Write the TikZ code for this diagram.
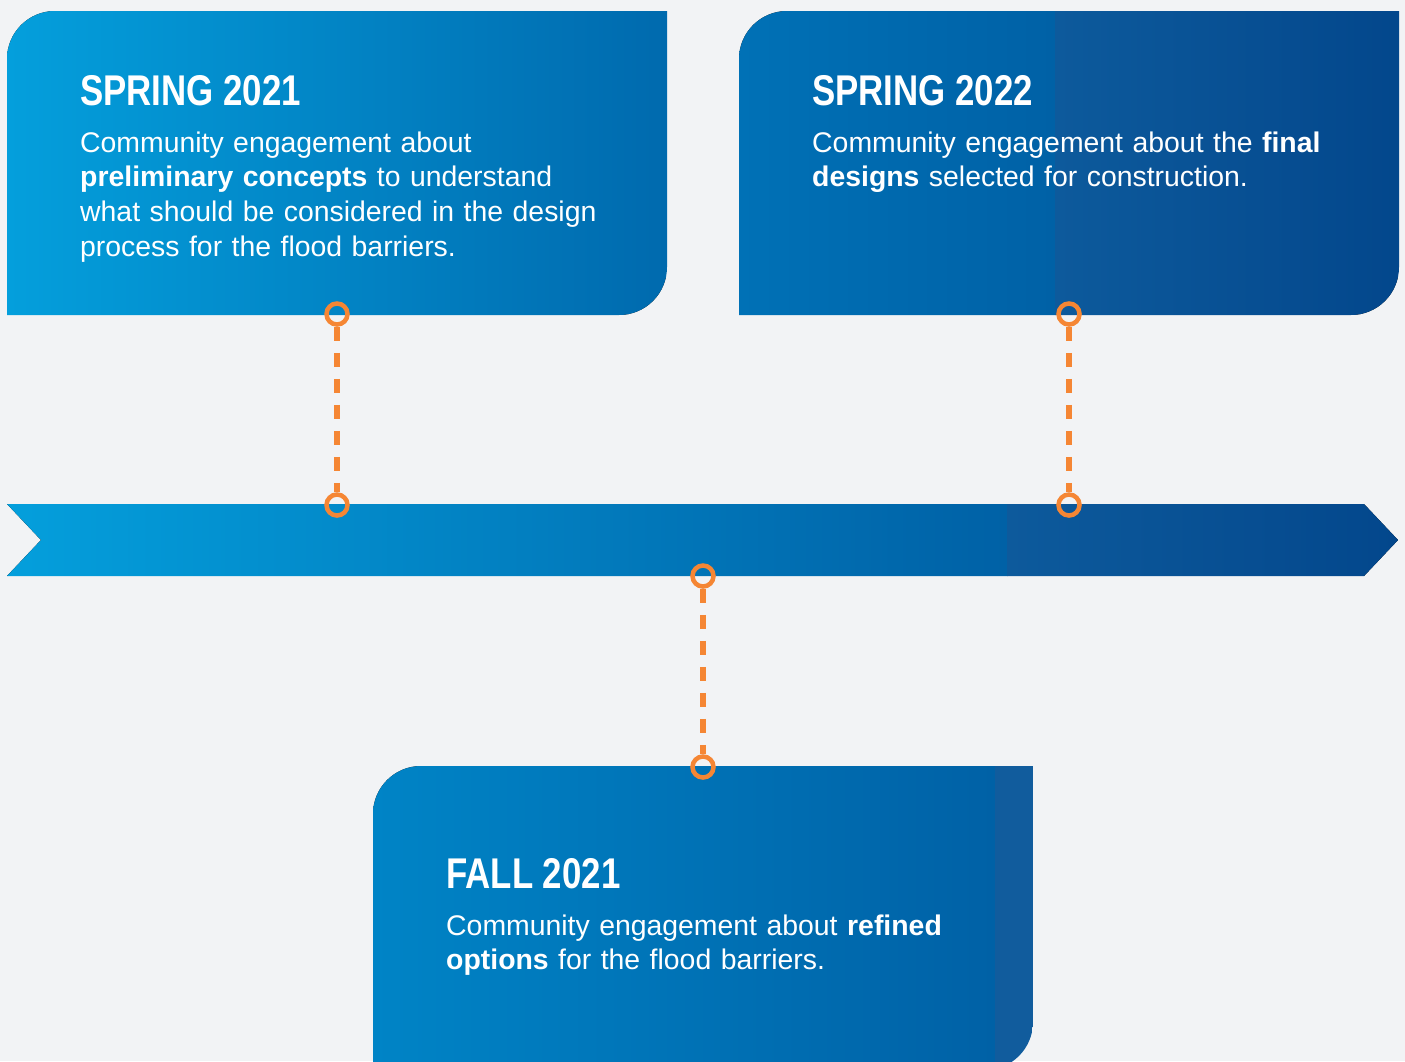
\documentclass[tikz,border=0pt]{standalone}
\usepackage{fontspec}
\setmainfont{Liberation Sans}
\newfontfamily\titlefont[FakeStretch=0.81]{Liberation Sans}
\definecolor{bg}{HTML}{F2F3F5}
\definecolor{orng}{HTML}{F58634}
\definecolor{bA}{HTML}{049FDC}
\definecolor{bB}{HTML}{006AAE}
\definecolor{bC}{HTML}{0071B6}
\definecolor{bD}{HTML}{0061A6}
\definecolor{bE}{HTML}{0D5A9C}
\definecolor{bF}{HTML}{03478C}
\definecolor{bG}{HTML}{0084C6}
\definecolor{bH}{HTML}{115C9D}
\newcommand\tabpath[4]{({#1},{#2+48}) .. controls ({#1},{#2+21.5}) and ({#1+21.5},{#2}) .. ({#1+48},{#2}) -- ({#3},{#2}) -- ({#3},{#4-48}) .. controls ({#3},{#4-21.5}) and ({#3-21.5},{#4}) .. ({#3-48},{#4}) -- ({#1},{#4}) -- cycle}
\newcommand\barpath{(7,504) -- (1364,504) -- (1398,540) -- (1364,576) -- (7,576) -- (41,540) -- cycle}
\tikzset{
  titletext/.style={text=white,inner sep=0pt,anchor=base west,font=\titlefont\bfseries\fontsize{43}{43}\selectfont},
  bodytext/.style={text=white,inner sep=0pt,anchor=base west,align=left,text width=640pt,font=\fontsize{28.4}{34.8}\selectfont},
  dot/.style={circle,draw=orng,line width=4.5pt,minimum size=21pt,inner sep=0pt},
  conn/.style={draw=orng,line width=5.5pt,dash pattern=on 14pt off 12pt}
}
\begin{document}
\begin{tikzpicture}[x=1pt,y=-1pt]
\useasboundingbox (0,0) rectangle (1405,1061);
\clip (0,0) rectangle (1405,1061);
\fill[bg] (0,0) rectangle (1405,1061);
% box 1
\begin{scope}
\clip \tabpath{7}{11}{667}{315};
\fill[left color=bA,right color=bB] (7,11) rectangle (667,315);
\end{scope}
% box 2
\begin{scope}
\clip \tabpath{739}{11}{1399}{315};
\fill[left color=bC,right color=bD] (739,11) rectangle (1055.5,315);
\fill[left color=bE,right color=bF] (1055,11) rectangle (1399,315);
\end{scope}
% box 3
\begin{scope}
\clip \tabpath{373}{766}{1033}{1070};
\fill[left color=bG,right color=bD] (373,766) rectangle (995.5,1070);
\fill[bH] (995,766) rectangle (1033,1070);
\end{scope}
% timeline bar
\begin{scope}
\clip \barpath;
\fill[left color=bA,right color=bD] (7,504) rectangle (1007.5,576);
\fill[left color=bE,right color=bF] (1007,504) rectangle (1398,576);
\end{scope}
% texts
\node[titletext] (t1) at (80,105) {SPRING 2021};
\node[bodytext] (d1) at (80,152) {Community engagement about\\\textbf{preliminary concepts} to understand\\what should be considered in the design\\process for the flood barriers.};
\node[titletext] (t2) at (812,105) {SPRING 2022};
\node[bodytext] (d2) at (812,152) {Community engagement about the \textbf{final}\\\textbf{designs} selected for construction.};
\node[titletext] (t3) at (446,888) {FALL 2021};
\node[bodytext] (d3) at (446,935) {Community engagement about \textbf{refined}\\\textbf{options} for the flood barriers.};
% markers
\node[dot] (p1) at (337,314) {};
\node[dot] (q1) at (337,505) {};
\node[dot] (p2) at (1069,314) {};
\node[dot] (q2) at (1069,505) {};
\node[dot] (p3) at (703,576) {};
\node[dot] (q3) at (703,767) {};
\draw[conn] (p1) -- (q1);
\draw[conn] (p2) -- (q2);
\draw[conn] (p3) -- (q3);
\end{tikzpicture}
\end{document}
